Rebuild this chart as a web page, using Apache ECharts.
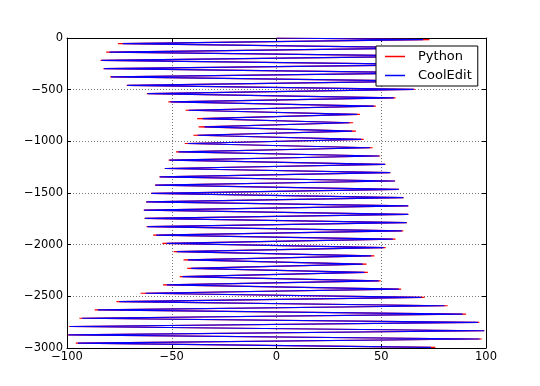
<!DOCTYPE html>
<html>
<head>
<meta charset="utf-8">
<script src="https://cdn.jsdelivr.net/npm/echarts@6/dist/echarts.min.js"></script>
<style>
html,body{margin:0;padding:0;background:#fff;}
#chart{width:540px;height:386px;}
</style>
</head>
<body>
<div id="chart"></div>
<script>
const seriesNames = ['Python', 'CoolEdit'];
const xTicks = [-100, -50, 0, 50, 100];
const yTicks = [0, -500, -1000, -1500, -2000, -2500, -3000];

const yValues = [0, -15, -55, -96, -136, -176, -216, -257, -297, -337, -377, -418, -458, -498, -538, -579, -619, -659, -699, -740, -780, -820, -860, -901, -941, -981, -1021, -1062, -1102, -1142, -1182, -1223, -1263, -1303, -1343, -1384, -1424, -1464, -1504, -1545, -1585, -1625, -1665, -1706, -1746, -1786, -1826, -1867, -1907, -1947, -1987, -2028, -2068, -2108, -2148, -2189, -2229, -2269, -2309, -2350, -2390, -2430, -2470, -2511, -2551, -2591, -2631, -2672, -2712, -2752, -2792, -2833, -2873, -2913, -2953, -2994];

const pythonX = [0, 73, -75.7, 79, -81.3, 81, -84, 82, -82.6, 79, -79.4, 73, -71.5, 66, -61.9, 56.8, -51.6, 47.4, -43.4, 39.8, -37.9, 36.6, -37.2, 37.9, -39.7, 41.6, -43.8, 45.9, -48, 49.5, -51.5, 52, -53.4, 54.4, -55.9, 56.7, -58, 58.5, -59.9, 60.7, -62.3, 63, -63.4, 63, -63, 62.3, -62, 60.5, -58.9, 56.8, -54.5, 52.1, -49.1, 46.7, -44.4, 43, -42.6, 43.6, -46.2, 49.7, -54.2, 59.5, -64.9, 70.7, -76.4, 81.7, -86.8, 90.5, -94.1, 96.8, -99.1, 99.3, -99.6, 98, -95.8, 75.8];

const coolEditX = [0, 70, -73.4, 77, -79.7, 80, -83.5, 81, -82.2, 78, -79, 72, -71.2, 65.5, -61.5, 56, -50.6, 46.5, -42, 38.4, -35.2, 34.8, -34.4, 36.1, -37.6, 40.4, -42.3, 44.7, -46.8, 49, -51, 51.8, -53.2, 54.2, -55.7, 56.5, -57.8, 58.3, -59.7, 60.5, -62.1, 62.8, -63.2, 62.8, -62.8, 62, -61.6, 59.8, -57.4, 55.5, -52.4, 51.1, -47.6, 45.2, -42.3, 41.2, -40.7, 42, -45, 48.8, -52.4, 58.4, -62.5, 69.1, -74.9, 80.2, -85.3, 88.9, -92.8, 96.1, -98.5, 99.1, -99.3, 96.9, -94.8, 73.8];

const fmt = v => String(v).replace('-', '\u2212');
const pairs = xs => xs.map((x, i) => [x, yValues[i]]);

const chart = echarts.init(document.getElementById('chart'), null, {renderer: 'canvas'});
const font = 'DejaVu Sans';
const gridLine = {show: true, lineStyle: {color: '#777', width: 1, type: [1, 2]}};
const tickIn = {show: true, inside: true, length: 4, lineStyle: {color: '#000', width: 1}};
const axLine = {show: true, onZero: false, lineStyle: {color: '#000', width: 1}};

chart.setOption({
  animation: false,
  backgroundColor: '#fff',
  grid: {left: 67, right: 54, top: 38, bottom: 38, containLabel: false},
  legend: {
    data: seriesNames,
    orient: 'vertical',
    left: 376, top: 46,
    backgroundColor: '#fff',
    borderColor: '#000', borderWidth: 1,
    padding: [3, 6, 3, 9],
    itemGap: 4,
    itemWidth: 20, itemHeight: 1.5,
    icon: 'rect',
    textStyle: {fontFamily: font, fontSize: 13, color: '#000', padding: [0, 0, 0, 8], lineHeight: 15}
  },
  xAxis: [
    {type: 'value', min: -100, max: 100, interval: 50, position: 'bottom',
     axisLine: axLine, axisTick: tickIn, splitLine: gridLine,
     axisLabel: {formatter: fmt, fontFamily: font, fontSize: 11.5, color: '#000', margin: 3}},
    {type: 'value', min: -100, max: 100, interval: 50, position: 'top',
     axisLine: axLine, axisTick: tickIn, splitLine: {show: false}, axisLabel: {show: false}}
  ],
  yAxis: [
    {type: 'value', min: -3000, max: 0, interval: 500, position: 'left',
     axisLine: axLine, axisTick: tickIn, splitLine: gridLine,
     axisLabel: {formatter: fmt, fontFamily: font, fontSize: 11.5, color: '#000', margin: 4}},
    {type: 'value', min: -3000, max: 0, interval: 500, position: 'right',
     axisLine: axLine, axisTick: tickIn, splitLine: {show: false}, axisLabel: {show: false}}
  ],
  series: [
    {name: seriesNames[0], type: 'line', xAxisIndex: 0, yAxisIndex: 0, data: pairs(pythonX),
     symbol: 'none', lineStyle: {color: '#ff0000', width: 1.2}, itemStyle: {color: '#ff0000'}, z: 2},
    {name: seriesNames[1], type: 'line', xAxisIndex: 0, yAxisIndex: 0, data: pairs(coolEditX),
     symbol: 'none', lineStyle: {color: '#0000ff', width: 1.2}, itemStyle: {color: '#0000ff'}, z: 3}
  ]
});
</script>
</body>
</html>
